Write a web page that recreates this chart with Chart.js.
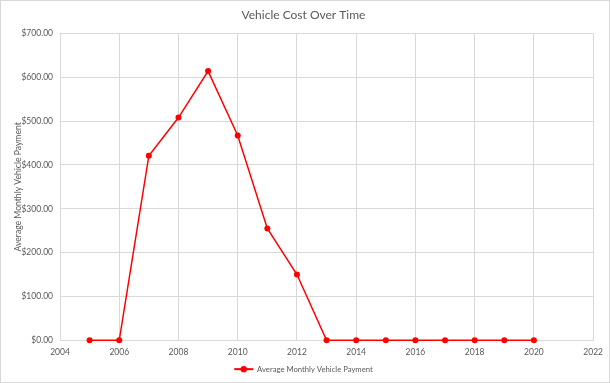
<!DOCTYPE html>
<html>
<head>
<meta charset="utf-8">
<script src="https://cdn.jsdelivr.net/npm/chart.js@4.4.1/dist/chart.umd.min.js"></script>
<style>
  html, body { margin: 0; padding: 0; background: #fff; }
  #wrap { width: 610px; height: 383px; }
</style>
</head>
<body>
<div id="wrap"><canvas id="costChart" width="610" height="383"></canvas></div>
<script>
const years = [2005, 2006, 2007, 2008, 2009, 2010, 2011, 2012, 2013, 2014, 2015, 2016, 2017, 2018, 2019, 2020];
const payments = [0, 0, 421, 508, 614, 467, 255, 150, 0, 0, 0, 0, 0, 0, 0, 0];
const seriesName = "Average Monthly Vehicle Payment";

const textColor = "#595959";
const gridColor = "#d9d9d9";
const fontFamily = "Lato, 'Open Sans', sans-serif";
const legendLineW = 19;

// white background + outer border like the Excel chart area
const chartFrame = {
  id: "chartFrame",
  beforeDraw(chart) {
    const c = chart.ctx;
    c.save();
    c.fillStyle = "#fff";
    c.fillRect(0, 0, chart.width, chart.height);
    c.strokeStyle = gridColor;
    c.lineWidth = 1;
    c.strokeRect(0.5, 0.5, chart.width - 1, chart.height - 1);
    c.restore();
  },
  // legend sample: red line with round marker
  afterDraw(chart) {
    const box = chart.legend.legendHitBoxes[0];
    if (!box) return;
    const c = chart.ctx;
    const size = chart.legend.options.labels.font.size;
    const cy = box.top + size / 2;
    const cx = box.left + legendLineW / 2;
    c.save();
    c.strokeStyle = "#ff0000";
    c.lineWidth = 2;
    c.beginPath();
    c.moveTo(box.left, cy);
    c.lineTo(box.left + legendLineW, cy);
    c.stroke();
    c.fillStyle = "#ff0000";
    c.beginPath();
    c.arc(cx, cy, 3.2, 0, Math.PI * 2);
    c.fill();
    c.restore();
  }
};

const ctx = document.getElementById("costChart").getContext("2d");
new Chart(ctx, {
  type: "line",
  data: {
    datasets: [
      {
        label: seriesName,
        data: years.map((y, i) => ({ x: y, y: payments[i] })),
        borderColor: "#ff0000",
        backgroundColor: "#ff0000",
        borderWidth: 1.5,
        pointRadius: 3,
        pointHoverRadius: 3,
        pointBorderWidth: 0,
        tension: 0,
        clip: 6,
      },
    ],
  },
  options: {
    responsive: false,
    animation: false,
    layout: { padding: { left: 13, right: 16, top: 0, bottom: 0 } },
    plugins: {
      title: {
        display: true,
        text: "Vehicle Cost Over Time",
        color: textColor,
        font: { family: fontFamily, size: 12, weight: "normal" },
        padding: { top: 8, bottom: 11 },
      },
      legend: {
        position: "bottom",
        labels: {
          color: textColor,
          font: { family: fontFamily, size: 7.7 },
          usePointStyle: true,
          pointStyle: "line",
          pointStyleWidth: legendLineW,
          boxHeight: 6,
          padding: 8,
        },
      },
      tooltip: { enabled: false },
    },
    scales: {
      x: {
        type: "linear",
        min: 2004,
        max: 2022,
        ticks: {
          stepSize: 2,
          color: textColor,
          font: { family: fontFamily, size: 8.5 },
          callback: (v) => String(v),
          padding: 7,
        },
        grid: { color: gridColor, drawTicks: false },
        border: { color: gridColor },
        afterFit: (s) => { s.height = 17; },
      },
      y: {
        min: 0,
        max: 700,
        ticks: {
          stepSize: 100,
          color: textColor,
          font: { family: fontFamily, size: 8.5 },
          callback: (v) => "$" + v.toFixed(2),
          padding: 7,
        },
        title: {
          display: true,
          text: seriesName,
          color: textColor,
          font: { family: fontFamily, size: 8.6 },
          padding: 0,
        },
        grid: { color: gridColor, drawTicks: false },
        border: { color: gridColor },
        afterFit: (s) => { s.width = 47; },
      },
    },
  },
  plugins: [chartFrame],
});
</script>
</body>
</html>
